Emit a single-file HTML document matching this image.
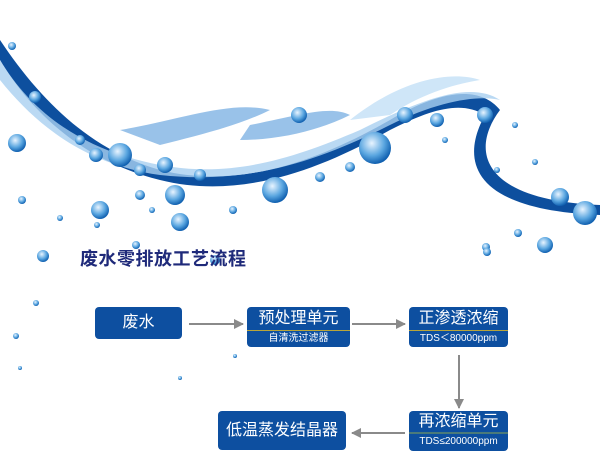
<!DOCTYPE html>
<html><head><meta charset="utf-8"><style>
body{margin:0;width:600px;height:459px;background:#fff;position:relative;overflow:hidden;font-family:"Liberation Sans","Noto Sans CJK SC",sans-serif}
.b{position:absolute;background:#0d4fa0;border-radius:4px;color:#fff;text-align:center}
.t{position:absolute;left:80px;top:245px;font-size:18px;font-weight:bold;color:#1f2a7a;letter-spacing:0.5px}
svg{position:absolute;left:0;top:0}
</style></head><body>
<svg width="600" height="459">
<defs><radialGradient id="g" cx="40%" cy="35%" r="65%"><stop offset="0" stop-color="#e8f4ff"/><stop offset="0.6" stop-color="#5aa6e0"/><stop offset="1" stop-color="#1060b0"/></radialGradient>
<marker id="a" markerUnits="userSpaceOnUse" markerWidth="10" markerHeight="10" refX="9" refY="5" orient="auto"><path d="M0,0 L10,5 L0,10 z" fill="#8a8a8a"/></marker></defs>
<path d="M0,40 C40,100 90,150 160,170 C240,190 320,160 390,120 C440,90 480,85 500,110 C470,150 480,200 600,205 L600,215 C470,210 460,160 485,115 C460,100 430,110 390,130 C320,170 240,200 160,180 C80,160 30,110 0,60 Z" fill="#0d4f9e"/>
<path d="M0,60 C30,110 80,150 160,165 C230,178 290,160 360,130 C420,100 470,80 500,100 C480,95 440,100 390,125 C320,160 250,185 160,175 C90,165 40,130 0,80 Z" fill="#a9cff0" opacity="0.8"/>
<path d="M120,130 C180,120 230,100 270,110 C240,125 200,135 160,145 Z M250,125 C300,115 330,105 350,115 C320,130 280,140 240,140 Z" fill="#7fb3e3" opacity="0.8"/>
<path d="M350,120 C400,80 450,70 480,80 C450,85 420,95 390,115 Z" fill="#cfe6f8"/>
<g fill="url(#g)">
<circle cx="12" cy="46" r="4"/><circle cx="17" cy="143" r="9"/><circle cx="35" cy="97" r="6"/><circle cx="80" cy="140" r="5"/><circle cx="96" cy="155" r="7"/><circle cx="120" cy="155" r="12"/><circle cx="140" cy="170" r="6"/><circle cx="175" cy="195" r="10"/><circle cx="200" cy="175" r="6"/><circle cx="275" cy="190" r="13"/><circle cx="320" cy="177" r="5"/><circle cx="350" cy="167" r="5"/><circle cx="375" cy="148" r="16"/><circle cx="405" cy="115" r="8"/><circle cx="437" cy="120" r="7"/><circle cx="485" cy="115" r="8"/><circle cx="299" cy="115" r="8"/><circle cx="165" cy="165" r="8"/><circle cx="140" cy="195" r="5"/><circle cx="100" cy="210" r="9"/><circle cx="180" cy="222" r="9"/><circle cx="97" cy="225" r="3"/><circle cx="233" cy="210" r="4"/><circle cx="152" cy="210" r="3"/><circle cx="43" cy="256" r="6"/><circle cx="136" cy="245" r="4"/><circle cx="215" cy="260" r="5"/><circle cx="535" cy="162" r="3"/><circle cx="560" cy="197" r="9"/><circle cx="585" cy="213" r="12"/><circle cx="518" cy="233" r="4"/><circle cx="486" cy="247" r="4"/><circle cx="487" cy="252" r="4"/><circle cx="545" cy="245" r="8"/><circle cx="36" cy="303" r="3"/><circle cx="16" cy="336" r="3"/><circle cx="20" cy="368" r="2"/><circle cx="22" cy="200" r="4"/><circle cx="60" cy="218" r="3"/><circle cx="235" cy="356" r="2"/><circle cx="180" cy="378" r="2"/><circle cx="515" cy="125" r="3"/><circle cx="497" cy="170" r="3"/><circle cx="445" cy="140" r="3"/></g>
<g stroke="#8a8a8a" stroke-width="2" fill="none" marker-end="url(#a)">
<line x1="189" y1="324" x2="243" y2="324"/><line x1="352" y1="324" x2="405" y2="324"/>
<line x1="459" y1="355" x2="459" y2="408"/><line x1="405" y1="433" x2="352" y2="433"/></g>
</svg>
<div class="t">废水零排放工艺流程</div>
<div class="b" style="left:95px;top:307px;width:87px;height:32px;line-height:32px;font-size:16px">废水</div>
<div class="b" style="left:247px;top:307px;width:103px;height:40px"><div style="font-size:16px;line-height:23px;border-bottom:1px solid #b8a53a">预处理单元</div><div style="font-size:10px;line-height:15px">自清洗过滤器</div></div>
<div class="b" style="left:409px;top:307px;width:99px;height:40px"><div style="font-size:16px;line-height:23px;border-bottom:1px solid #b8a53a">正渗透浓缩</div><div style="font-size:10px;line-height:15px">TDS＜80000ppm</div></div>
<div class="b" style="left:409px;top:411px;width:99px;height:40px"><div style="font-size:16px;line-height:21px;border-bottom:2px solid #4a7a7a">再浓缩单元</div><div style="font-size:10px;line-height:16px">TDS≤200000ppm</div></div>
<div class="b" style="left:218px;top:411px;width:128px;height:39px;line-height:39px;font-size:16px">低温蒸发结晶器</div>
</body></html>
